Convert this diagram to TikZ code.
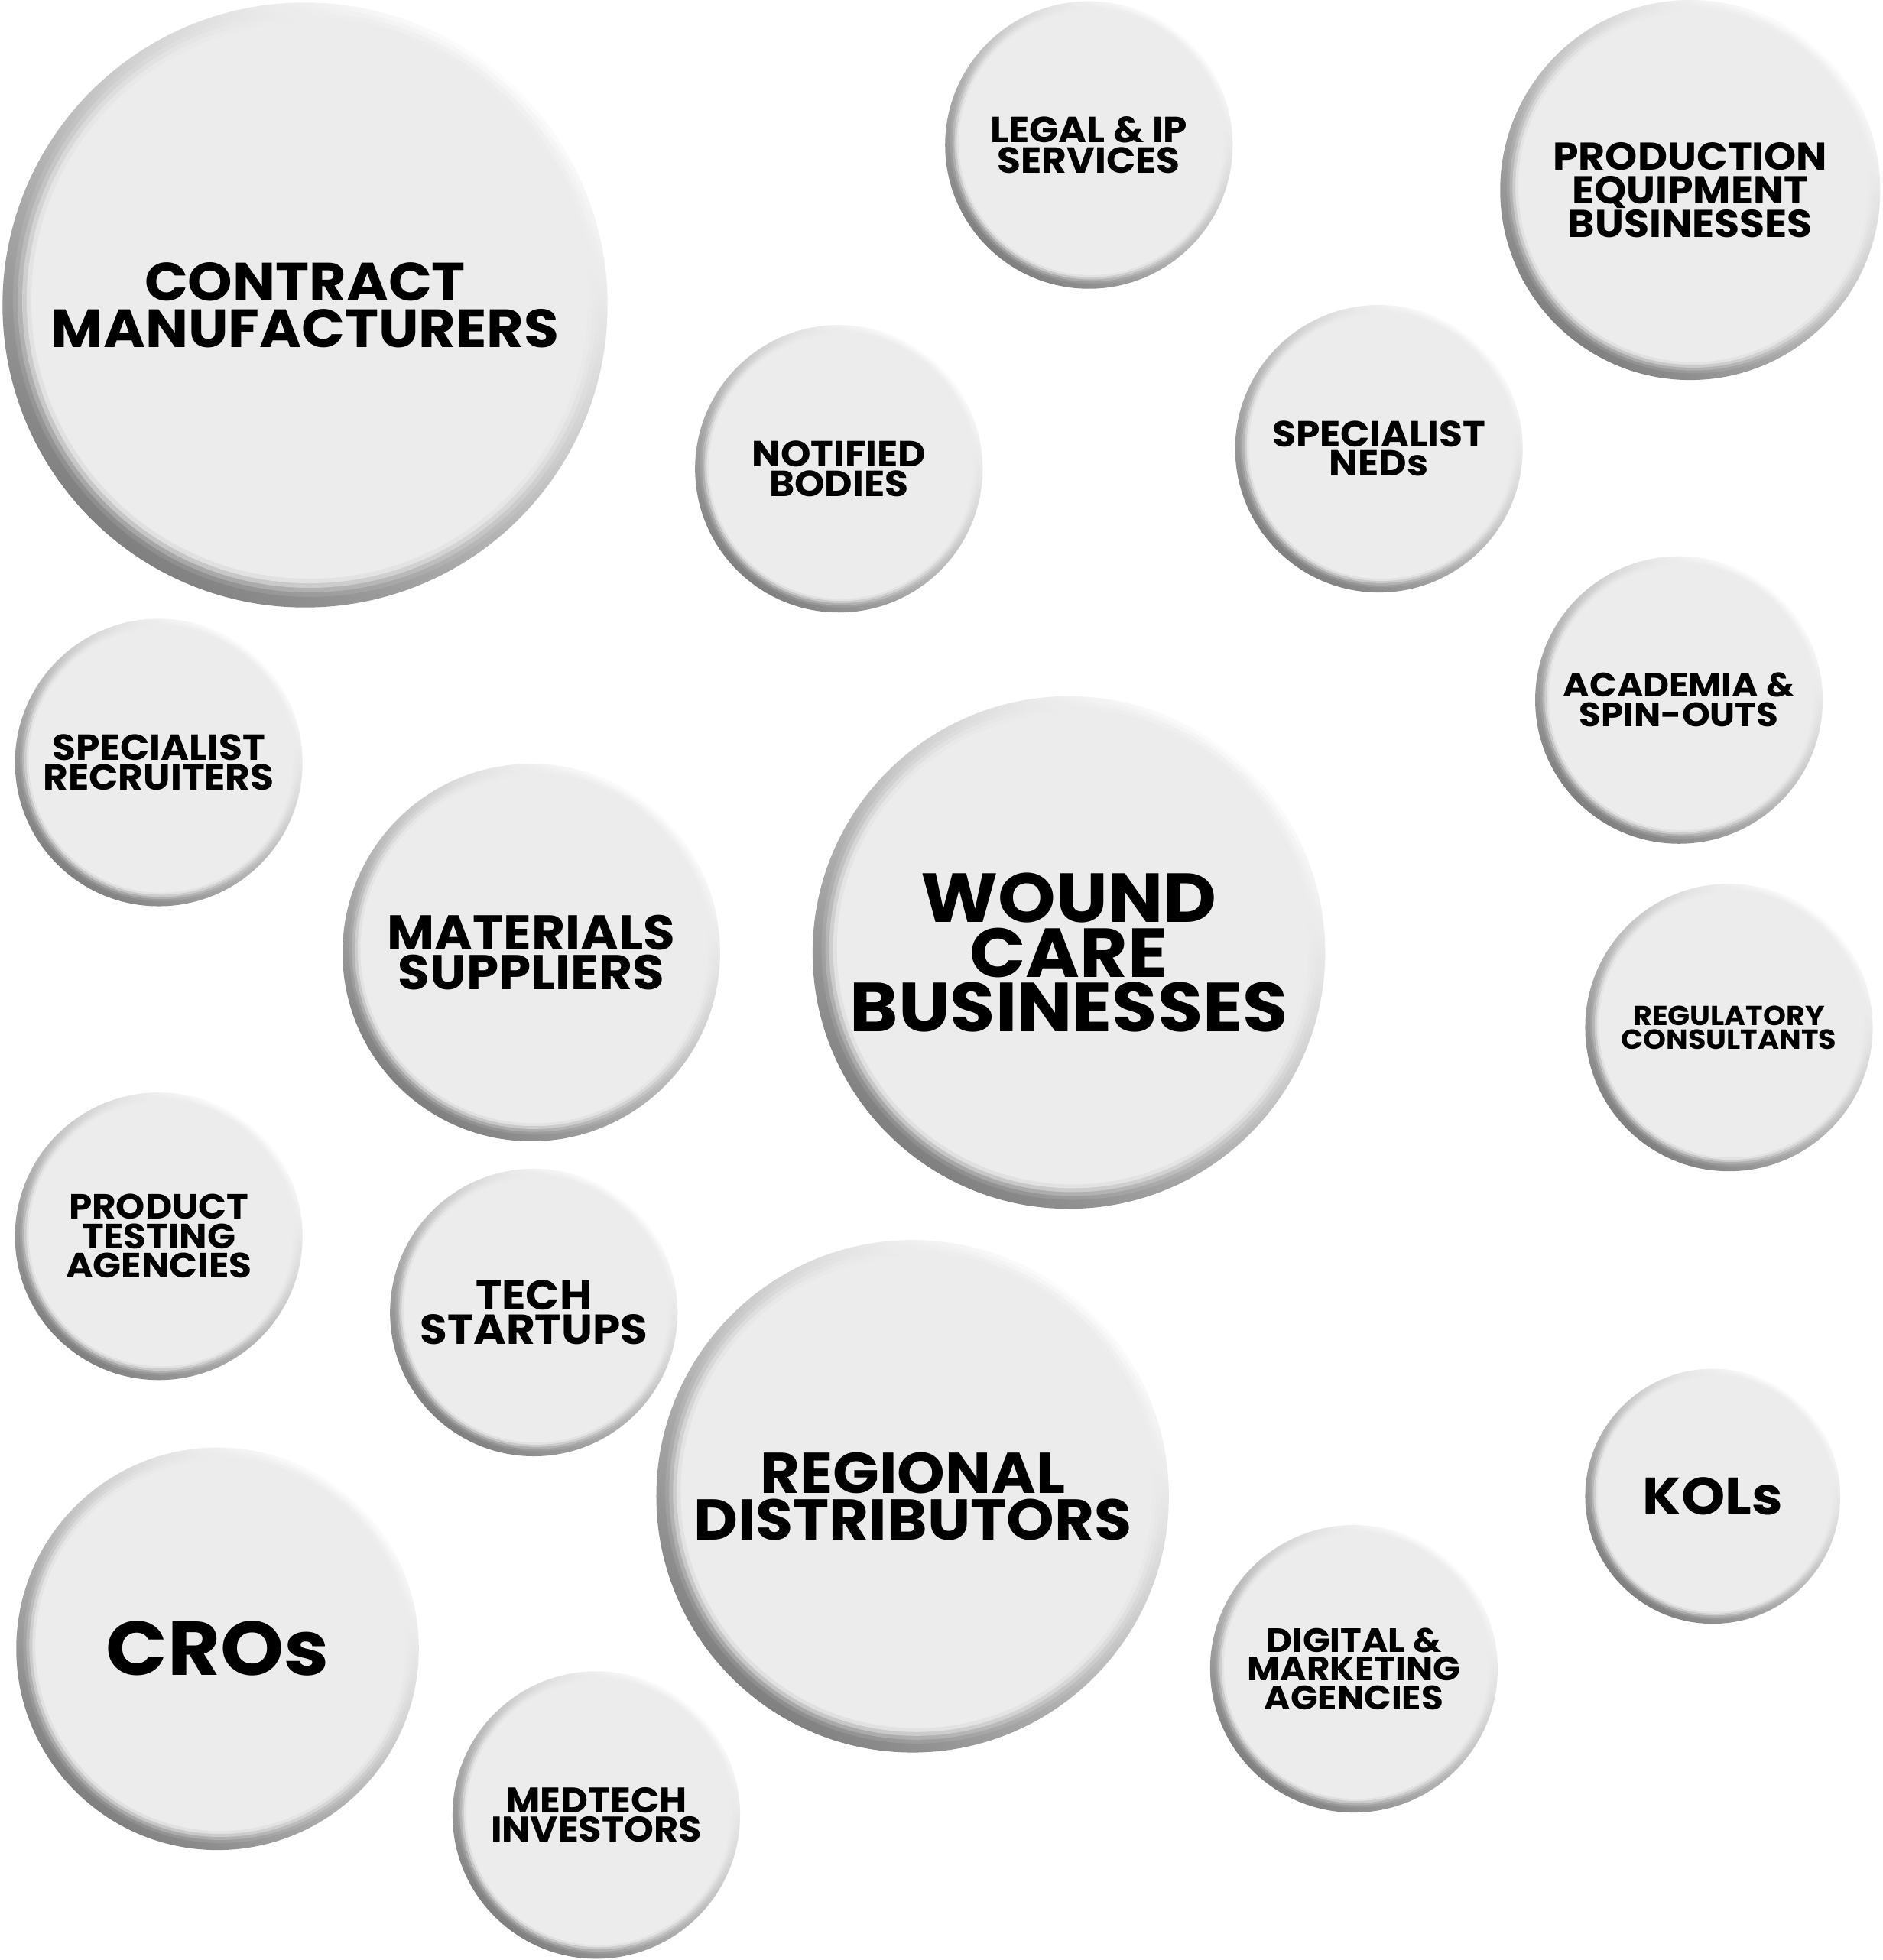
\documentclass[tikz,border=0pt]{standalone}
\usepackage{fontspec}
\setmainfont{Poppins}[BoldFeatures={FakeStretch=1.06}]
\usetikzlibrary{calc}

\definecolor{bubblefill}{RGB}{236,236,236}

\begin{document}
\begin{tikzpicture}[x=1pt, y=-1pt,
  bubble/.style={circle, minimum size=#1, inner sep=0pt, align=center,
    top color=white, middle color=black!7, bottom color=black!50, shading angle=-40,
    path picture={
      \foreach \f/\o in {0.98/0.12, 0.965/0.25, 0.95/0.45, 0.935/0.7, 0.92/1}{
        \fill[bubblefill, opacity=\o] let \p1=(path picture bounding box.north east),
          \p2=(path picture bounding box.south west), \n1={0.5*(\x1-\x2)} in
          ($(path picture bounding box.center)+(0.015*\n1,0.015*\n1)$) circle [radius=\f*\n1];
      }
    }},
  lbl/.style 2 args={font=\bfseries\fontsize{#1}{#2}\selectfont}
]
  \fill[white] (0,0) rectangle (1506,1568);
  \useasboundingbox (0,0) rectangle (1506,1568);

  % large bubbles
  \node[bubble=484, lbl={43}{37}] (contract) at (244,244) {CONTRACT\\MANUFACTURERS};
  \node[bubble=410, lbl={55.5}{44}] (wound) at (855,762) {WOUND\\CARE\\BUSINESSES};
  \node[bubble=410, lbl={46}{37}] (regional) at (730,1197) {REGIONAL\\DISTRIBUTORS};
  \node[bubble=322, lbl={61}{50}] (cros) at (174,1319) {CROs};
  \node[bubble=304, lbl={31}{27}] (prodequip) at (1352,152) {PRODUCTION\\EQUIPMENT\\BUSINESSES};
  \node[bubble=302, lbl={39}{32}] (materials) at (425,762) {MATERIALS\\SUPPLIERS};

  % small bubbles
  \node[bubble=230, lbl={29}{24}] (legal) at (871,116) {LEGAL \& IP\\SERVICES};
  \node[bubble=230, lbl={29}{24}] (notified) at (671,375) {NOTIFIED\\BODIES};
  \node[bubble=230, lbl={29}{23.5}] (neds) at (1103,359) {SPECIALIST\\NEDs};
  \node[bubble=230, lbl={29}{23.5}] (recruiters) at (127,610) {SPECIALIST\\RECRUITERS};
  \node[bubble=230, lbl={27}{24}] (academia) at (1343,560) {ACADEMIA \&\\SPIN-OUTS};
  \node[bubble=230, lbl={22}{19}] (regulatory) at (1383,822) {REGULATORY\\CONSULTANTS};
  \node[bubble=230, lbl={28}{23.5}] (testing) at (127,989) {PRODUCT\\TESTING\\AGENCIES};
  \node[bubble=230, lbl={33.5}{27.5}] (tech) at (427,1050) {TECH\\STARTUPS};
  \node[bubble=204, lbl={42}{36}] (kols) at (1370,1197) {KOLs};
  \node[bubble=230, lbl={27}{23}] (digital) at (1083,1335) {DIGITAL \&\\MARKETING\\AGENCIES};
  \node[bubble=230, lbl={28.5}{23.5}] (medtech) at (477,1452) {MEDTECH\\INVESTORS};
\end{tikzpicture}
\end{document}
